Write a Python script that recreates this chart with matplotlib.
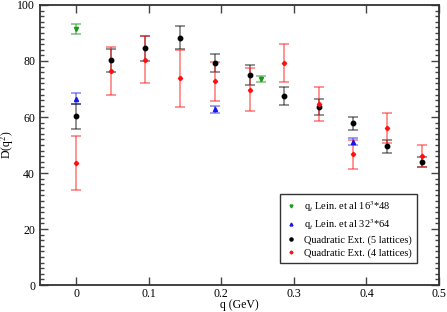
import numpy as np
import matplotlib
matplotlib.use("Agg")
import matplotlib.pyplot as plt
from matplotlib.ticker import MultipleLocator

plt.rcParams["font.family"] = ["Liberation Serif", "DejaVu Serif"]
plt.rcParams["mathtext.fontset"] = "stix"

# q_t Lein. et al 16^3*48
q_green = [0.0, 0.255]
d_green = [91.5, 73.5]
e_green = [1.8, 1.1]

# q_t Lein. et al 32^3*64
q_blue = [0.0, 0.191, 0.382]
d_blue = [66.5, 62.7, 51.1]
e_blue = [1.9, 1.3, 1.25]

# Quadratic Ext. (5 lattices)
q_black = [0.0, 0.048, 0.095, 0.143, 0.191, 0.239, 0.286, 0.334, 0.382, 0.429, 0.477]
d_black = [60.2, 80.2, 84.5, 88.3, 79.2, 75.0, 67.4, 63.5, 57.7, 49.5, 44.0]
e_black = [4.5, 4.0, 4.4, 4.1, 3.3, 3.4, 3.2, 2.9, 2.25, 2.3, 1.8]

# Quadratic Ext. (4 lattices)
q_red = [0.0, 0.048, 0.095, 0.143, 0.191, 0.239, 0.286, 0.334, 0.382, 0.429, 0.477]
d_red = [43.5, 76.4, 80.5, 73.8, 72.7, 69.8, 79.2, 64.6, 46.7, 56.0, 46.1]
e_red = [9.7, 8.7, 8.5, 10.2, 7.0, 7.7, 6.8, 6.0, 5.1, 5.4, 3.9]

labels = [r"q$_t$ Lein. et al 16$^3$*48",
          r"q$_t$ Lein. et al 32$^3$*64",
          "Quadratic Ext. (5 lattices)",
          "Quadratic Ext. (4 lattices)"]

fig = plt.figure(figsize=(4.47, 3.12), dpi=100)
ax = fig.add_axes([0.0895, 0.0865, 0.8925, 0.8975])

series = [
    (q_green, d_green, e_green, "v", "#1a9a1a", (0.1, 0.6, 0.1, 0.55), 3.0),
    (q_blue, d_blue, e_blue, "^", "#1515ee", (0.1, 0.1, 0.95, 0.5), 3.0),
    (q_black, d_black, e_black, "o", "black", (0.0, 0.0, 0.0, 0.5), 3.2),
    (q_red, d_red, e_red, "D", "#ff1010", (1.0, 0.1, 0.1, 0.55), 2.2),
]

for (q, d, e, m, c, ec, ms), lab in zip(series, labels):
    ax.errorbar(q, d, yerr=e, fmt=m, color=c, ecolor=ec, ms=ms,
                elinewidth=1.2, capsize=3.5, capthick=1.2, label=lab)

ax.set_xlim(-0.05, 0.5)
ax.set_ylim(0, 100)
ax.xaxis.set_major_locator(MultipleLocator(0.1))
ax.yaxis.set_major_locator(MultipleLocator(20))
ax.yaxis.set_minor_locator(MultipleLocator(2))
ax.tick_params(which="both", direction="in", top=True, right=True,
               labelsize=8.5, color="#444444")
ax.tick_params(which="major", length=6, width=1)
ax.tick_params(which="minor", length=3, width=1)
ax.tick_params(axis="x", which="major", pad=2.5)
ax.tick_params(axis="x", which="minor", top=False, bottom=False)
ax.xaxis.set_major_formatter(plt.FuncFormatter(lambda v, p: "0" if abs(v) < 1e-9 else f"{v:.1f}"))
for s in ax.spines.values():
    s.set_linewidth(1.3)
    s.set_color("#333333")

ax.set_xlabel("q (GeV)", fontsize=8.5, labelpad=-1)
ax.set_ylabel(r"D(q$^2$)", fontsize=8.5, labelpad=1)

handles, labs = ax.get_legend_handles_labels()
handles = [h[0] for h in handles]
leg = ax.legend(handles, labs, loc="lower right", bbox_to_anchor=(0.957, 0.061),
                fontsize=7.5, fancybox=False, edgecolor="#333333",
                markerscale=0.7, handlelength=1.2, handletextpad=0.6,
                labelspacing=0.3, borderpad=0.5, framealpha=1)
leg.get_frame().set_linewidth(1.0)

fig.savefig("out.png", dpi=100)
